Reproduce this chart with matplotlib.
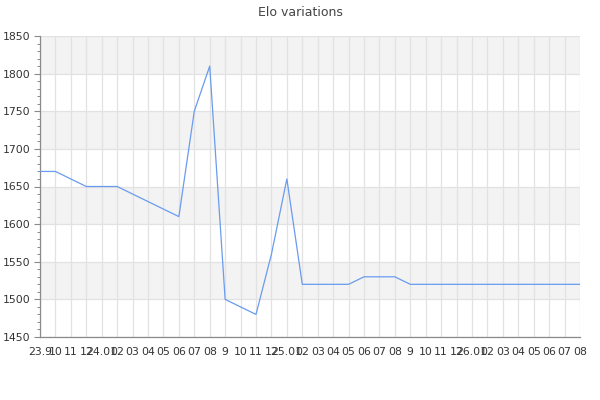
import numpy as np
import matplotlib
matplotlib.use('Agg')
import matplotlib.pyplot as plt
from matplotlib.ticker import MultipleLocator

# month labels as shown under the axis
labels = ['23.9', '10', '11', '12',
          '24.01', '02', '03', '04', '05', '06', '07', '08', '9', '10', '11', '12',
          '25.01', '02', '03', '04', '05', '06', '07', '08', '9', '10', '11', '12',
          '26.01', '02', '03', '04', '05', '06', '07', '08']

elo = [1670, 1670, 1660, 1650, 1650, 1650, 1640, 1630, 1620, 1610,
       1750, 1810, 1500, 1490, 1480, 1560, 1660, 1520, 1520, 1520,
       1520, 1530, 1530, 1530, 1520, 1520, 1520, 1520, 1520, 1520,
       1520, 1520, 1520, 1520, 1520, 1520]

y_min, y_max, y_step = 1450, 1850, 50

fig = plt.figure(figsize=(6, 4), dpi=100)
ax = fig.add_axes([40/600, 1-337/400, 540/600, 301/400])

x = np.arange(len(elo))

# alternating bands
for lo in range(y_min + y_step, y_max, 2*y_step):
    ax.axhspan(lo, lo + y_step, color='#f3f3f3', zorder=0, lw=0)

ax.plot(x, elo, color='#6a9bef', lw=0.9, zorder=3)

ax.set_xlim(0, len(elo) - 1)
ax.set_ylim(y_min, y_max)
ax.set_xticks(x)
ax.set_xticklabels(labels)
ax.yaxis.set_major_locator(MultipleLocator(y_step))
ax.yaxis.set_minor_locator(MultipleLocator(10))

ax.grid(True, which='major', color='#e2e2e2', lw=0.9, zorder=1)
ax.set_axisbelow(True)

for s in ['top', 'right']:
    ax.spines[s].set_visible(False)
for s in ['left', 'bottom']:
    ax.spines[s].set_color('#8a8a8a')
    ax.spines[s].set_linewidth(0.9)

ax.tick_params(axis='x', length=0, pad=7, labelsize=7.8, colors='#333333')
ax.tick_params(axis='y', which='major', length=4.3, width=0.8, color='#8a8a8a',
               pad=2.4, labelsize=7.8, labelcolor='#333333')
ax.tick_params(axis='y', which='minor', length=2.3, width=0.7, color='#8a8a8a')

fig.text(0.5, 1 - 12/400, 'Elo variations', ha='center', va='center',
         fontsize=9, color='#444444')

fig.savefig('out.png', dpi=100)
